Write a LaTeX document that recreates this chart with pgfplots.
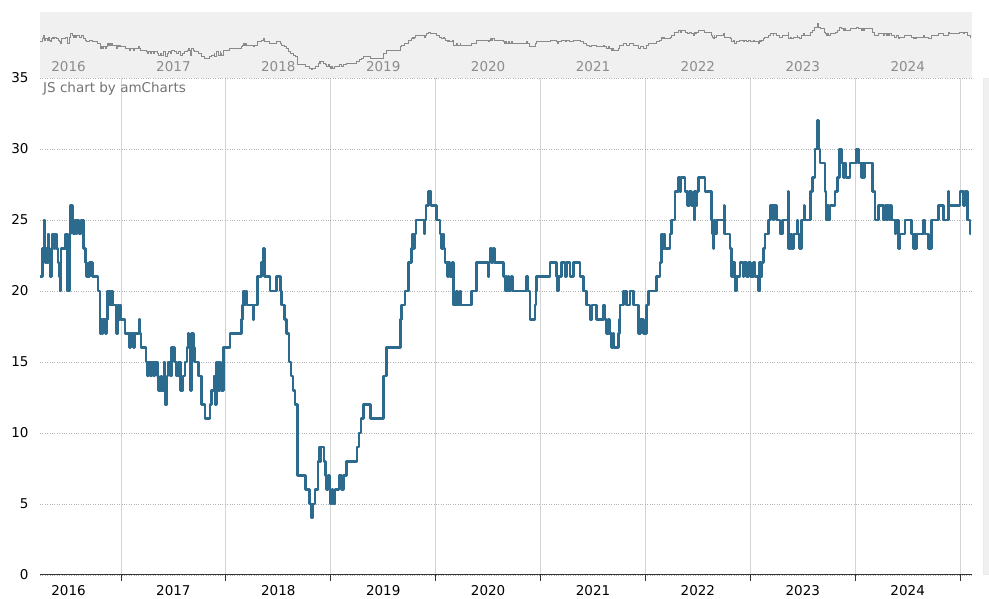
\documentclass[border=0pt]{standalone}
\usepackage{pgfplots}
\pgfplotsset{compat=1.18}
\usepackage{pgfplotstable}
\usepackage{fontspec}
\setmainfont{DejaVu Sans}
\definecolor{lineblue}{HTML}{2C6A8E}
\definecolor{gridgray}{HTML}{D4D4D4}
\definecolor{scrollbg}{HTML}{F0F0F0}
\definecolor{scrollline}{HTML}{8A8A8A}
\pgfplotstableread{
x y
2016.23 21
2016.25 23
2016.265 25
2016.275 22
2016.285 23
2016.295 22
2016.305 24
2016.315 22
2016.325 21
2016.335 23
2016.345 24
2016.36 23
2016.37 24
2016.385 23
2016.40 22
2016.41 21
2016.42 20
2016.43 23
2016.47 24
2016.49 20
2016.51 24
2016.52 26
2016.54 25
2016.55 24
2016.56 25
2016.57 24
2016.58 25
2016.60 24
2016.62 25
2016.64 23
2016.66 22
2016.67 21
2016.70 22
2016.73 21
2016.78 20
2016.80 17
2016.81 18
2016.82 17
2016.83 18
2016.85 17
2016.86 18
2016.87 20
2016.88 19
2016.89 20
2016.90 19
2016.91 20
2016.92 19
2016.96 17
2016.97 19
2016.98 18
2016.99 19
2017.00 18
2017.04 17
2017.08 16
2017.09 17
2017.12 16
2017.13 17
2017.17 18
2017.18 17
2017.19 16
2017.24 15
2017.25 14
2017.26 15
2017.28 14
2017.29 15
2017.31 14
2017.32 15
2017.35 14
2017.36 13
2017.38 14
2017.39 13
2017.41 15
2017.42 12
2017.44 14
2017.45 15
2017.47 14
2017.48 16
2017.51 15
2017.53 14
2017.55 15
2017.57 13
2017.59 14
2017.61 15
2017.63 16
2017.64 17
2017.65 16
2017.66 13
2017.67 17
2017.69 16
2017.70 15
2017.74 14
2017.77 12
2017.80 11
2017.848 12
2017.865 13
2017.887 14
2017.896 12
2017.912 15
2017.928 13
2017.944 15
2017.952 14
2017.960 13
2017.975 16
2018.039 17
2018.15 18
2018.16 19
2018.17 20
2018.18 19
2018.19 20
2018.20 19
2018.26 18
2018.27 19
2018.30 21
2018.34 22
2018.36 23
2018.37 21
2018.42 20
2018.48 21
2018.52 20
2018.53 19
2018.56 18
2018.58 17
2018.60 15
2018.62 14
2018.64 13
2018.66 12
2018.68 7
2018.76 6
2018.80 5
2018.815 4
2018.825 5
2018.85 6
2018.88 8
2018.89 9
2018.90 8
2018.905 9
2018.935 8
2018.95 7
2018.96 6
2018.975 7
2018.99 6
2019.00 5
2019.01 6
2019.02 5
2019.04 6
2019.08 7
2019.10 6
2019.12 7
2019.15 8
2019.25 9
2019.27 10
2019.29 11
2019.31 12
2019.38 11
2019.50 14
2019.53 16
2019.665 18
2019.676 19
2019.707 20
2019.739 22
2019.771 23
2019.78 24
2019.79 23
2019.80 24
2019.812 25
2019.895 24
2019.90 25
2019.908 26
2019.930 27
2019.955 26
2020.009 25
2020.041 24
2020.057 23
2020.07 24
2020.08 23
2020.089 22
2020.11 21
2020.12 22
2020.136 21
2020.16 22
2020.168 19
2020.20 20
2020.21 19
2020.232 20
2020.24 19
2020.343 20
2020.391 22
2020.50 21
2020.51 22
2020.518 23
2020.534 22
2020.545 23
2020.56 22
2020.644 21
2020.66 20
2020.67 21
2020.677 20
2020.69 21
2020.70 20
2020.72 21
2020.73 20
2020.867 21
2020.88 20
2020.899 18
2020.947 19
2020.955 20
2020.963 21
2021.090 22
2021.153 21
2021.16 20
2021.17 21
2021.201 22
2021.233 21
2021.25 22
2021.280 21
2021.312 22
2021.376 21
2021.407 20
2021.439 19
2021.471 18
2021.49 19
2021.535 18
2021.598 19
2021.614 18
2021.630 17
2021.645 18
2021.655 17
2021.678 16
2021.69 17
2021.70 16
2021.741 17
2021.75 18
2021.757 19
2021.788 20
2021.821 19
2021.852 20
2021.884 19
2021.931 17
2021.95 18
2021.98 17
2022.011 19
2022.027 20
2022.107 21
2022.138 22
2022.154 24
2022.165 23
2022.175 24
2022.186 23
2022.234 24
2022.25 25
2022.281 27
2022.313 28
2022.33 27
2022.34 28
2022.377 27
2022.40 26
2022.42 27
2022.441 26
2022.462 25
2022.47 27
2022.48 26
2022.49 27
2022.503 28
2022.567 27
2022.631 25
2022.64 24
2022.646 23
2022.655 25
2022.662 24
2022.679 25
2022.748 26
2022.752 24
2022.806 23
2022.822 21
2022.84 22
2022.853 20
2022.87 21
2022.901 22
2022.93 21
2022.94 22
2022.965 21
2022.98 22
2023.00 21
2023.028 22
2023.044 21
2023.075 20
2023.085 22
2023.10 21
2023.11 22
2023.123 23
2023.139 24
2023.171 25
2023.194 26
2023.218 25
2023.225 26
2023.251 25
2023.282 24
2023.308 25
2023.36 27
2023.365 23
2023.38 24
2023.39 23
2023.409 24
2023.447 25
2023.452 24
2023.466 23
2023.489 25
2023.511 26
2023.515 25
2023.575 27
2023.594 28
2023.616 30
2023.638 32
2023.651 30
2023.664 29
2023.711 27
2023.72 26
2023.727 25
2023.735 26
2023.743 25
2023.76 26
2023.807 27
2023.828 28
2023.848 30
2023.870 29
2023.886 28
2023.90 29
2023.911 28
2023.950 29
2024.013 30
2024.029 29
2024.061 28
2024.07 29
2024.08 28
2024.09 29
2024.166 27
2024.188 25
2024.219 26
2024.267 25
2024.283 26
2024.30 25
2024.31 26
2024.32 25
2024.33 26
2024.347 25
2024.378 24
2024.39 25
2024.41 23
2024.426 24
2024.474 25
2024.538 24
2024.553 23
2024.565 24
2024.575 23
2024.585 24
2024.648 25
2024.664 24
2024.696 23
2024.728 25
2024.791 26
2024.839 25
2024.887 27
2024.895 26
2024.998 27
2025.030 26
2025.046 27
2025.072 25
2025.094 24
2025.10 24
}\datatable
\begin{document}
\begin{tikzpicture}
\path[use as bounding box] (0pt,0pt) rectangle (989pt,599pt);
% right-hand vertical scrollbar
\filldraw[fill=scrollbg, draw=black!8, line width=0.5pt] (983.5pt,25pt) rectangle (989pt,521pt);
% top scrollbar background
\fill[scrollbg] (40pt,521pt) rectangle (972pt,587pt);
\begin{axis}[
  at={(40pt,24pt)}, anchor=south west, scale only axis,
  width=932pt, height=497pt,
  xmin=2016.228, xmax=2025.113, ymin=0, ymax=35,
  ytick={0,5,...,35},
  xtick={2016.5,2017.5,...,2024.5},
  xticklabels={2016,2017,2018,2019,2020,2021,2022,2023,2024},
  minor xtick={2017,2018,...,2025},
  axis x line*=bottom, axis y line*=left,
  x axis line style={-, black!80, line width=1pt},
  y axis line style={draw=none},
  ytick style={draw=none},
  major x tick style={draw=none},
  minor x tick style={black!80, line width=0.8pt},
  tick align=outside,
  major tick length=0pt,
  minor tick length=6pt,
  xminorgrids, ymajorgrids,
  minor x grid style={gridgray, line width=0.9pt},
  major y grid style={black!30, dotted, line width=0.6pt},
  tick label style={font=\fontsize{13.5}{15}\selectfont, text=black},
  yticklabel={\pgfmathprintnumber[assume math mode=true]{\tick}},
  yticklabel style={xshift=-8pt},
  xticklabel style={yshift=-7pt},
  clip=false,
]
\addplot[const plot, lineblue, line width=2.6pt, line join=round] table {\datatable};
\node[anchor=west, inner sep=0pt, text=black!55, font=\fontsize{13.5}{15}\selectfont]
  at (rel axis cs:0,1) [xshift=3pt, yshift=-11pt] {JS chart by amCharts};
\end{axis}
\begin{axis}[
  at={(40pt,521pt)}, anchor=south west, scale only axis,
  width=932pt, height=66pt,
  xmin=2016.228, xmax=2025.113, ymin=-1, ymax=39.3,
  axis lines=none, ticks=none,
]
\addplot[const plot, scrollline, line width=1pt] table {\datatable};
\pgfplotsinvokeforeach{2016,2017,...,2024}{
  \node[text=black!45, font=\fontsize{13.5}{15}\selectfont] at (axis cs:#1.5,5.8) {#1};
}
\end{axis}
\end{tikzpicture}
\end{document}
